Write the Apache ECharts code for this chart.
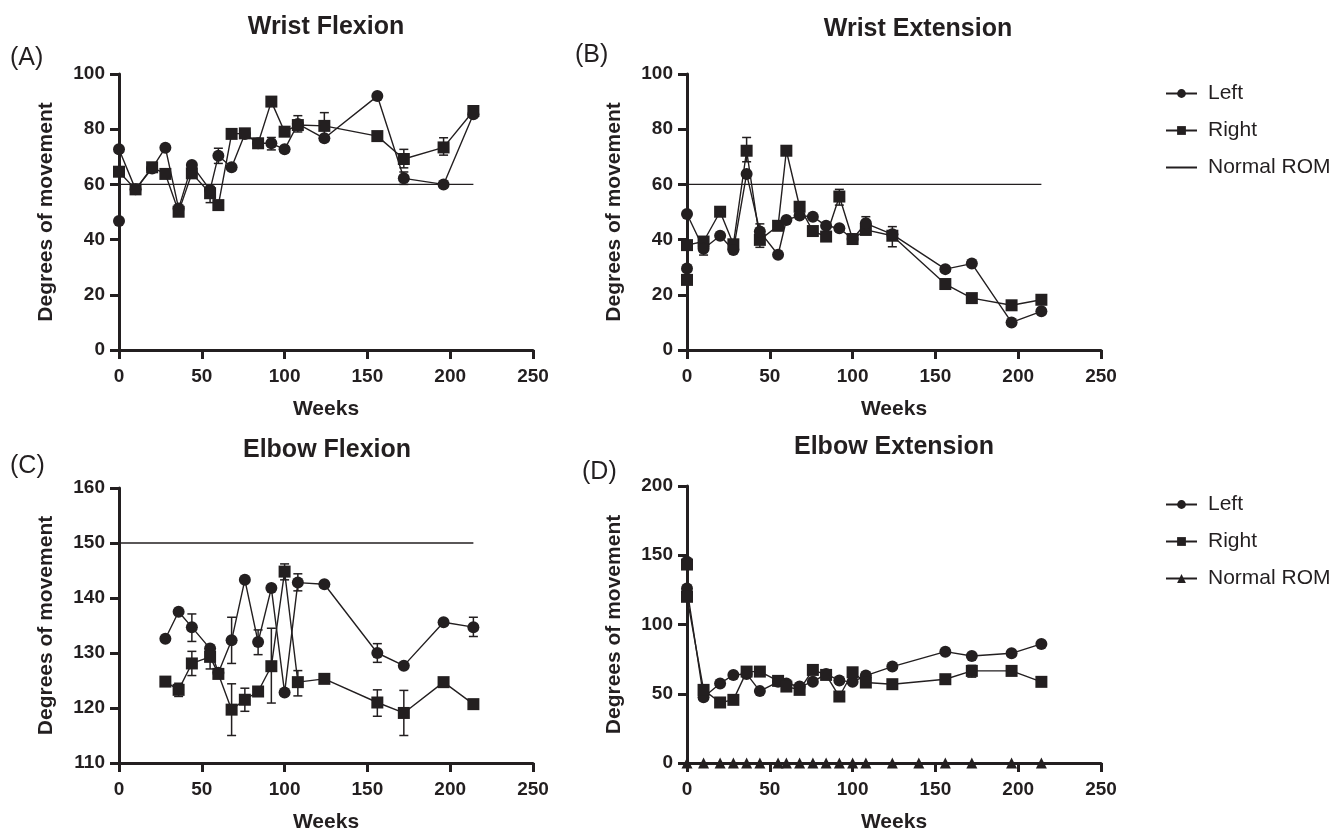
<!DOCTYPE html>
<html>
<head>
<meta charset="utf-8">
<script src="https://cdn.jsdelivr.net/npm/echarts@6/dist/echarts.min.js"></script>
<style>
html,body{margin:0;padding:0;background:#fff;}
#chart{width:1340px;height:835px;}
</style>
</head>
<body>
<div id="chart"></div>
<script>
// ---------------- DATA ----------------
const titles = ['Wrist Flexion', 'Wrist Extension', 'Elbow Flexion', 'Elbow Extension'];
const panelLetters = ['(A)', '(B)', '(C)', '(D)'];
const xTicks = [0, 50, 100, 150, 200, 250];

// Panel A – Wrist Flexion
const aLeftWeeks  = [0, 0, 10, 20, 28, 36, 44, 55, 60, 68, 76, 84, 92, 100, 108, 124, 156, 172, 196, 214];
const aLeft       = [46.7, 72.7, 58.2, 65.8, 73.3, 51.3, 67, 58, 70.4, 66.2, 78.3, 74.9, 74.9, 72.7, 81.9, 76.7, 92, 62.2, 60, 85.4];
const aRightWeeks = [0, 10, 20, 28, 36, 44, 55, 60, 68, 76, 84, 92, 100, 108, 124, 156, 172, 196, 214];
const aRight      = [64.6, 58.2, 66.2, 63.8, 50.1, 64, 56.8, 52.5, 78.3, 78.5, 74.9, 90, 79.1, 81.5, 81.2, 77.5, 69.2, 73.4, 86.6];
const aNormWeeks  = [0, 214];
const aNorm       = [60, 60];
const aLeftErr    = [[60, 67.6, 73.1], [92, 72.5, 77], [172, 60, 64.5]];
const aRightErr   = [[55, 53.4, 59.2], [108, 79, 84.9], [124, 77, 86], [172, 66, 72.7], [196, 70.6, 76.9]];

// Panel B – Wrist Extension
const bLeftWeeks  = [0, 0, 10, 20, 28, 36, 44, 55, 60, 68, 76, 84, 92, 100, 108, 124, 156, 172, 196, 214];
const bLeft       = [29.5, 49.3, 36.7, 41.4, 36.2, 63.8, 42.9, 34.5, 47.1, 48.7, 48.3, 45, 44.1, 40.2, 45.9, 41.9, 29.3, 31.3, 10, 14];
const bRightWeeks = [0, 0, 10, 20, 28, 36, 44, 55, 60, 68, 76, 84, 92, 100, 108, 124, 156, 172, 196, 214];
const bRight      = [25.4, 38, 39.3, 50.1, 38.3, 72.2, 39.9, 45, 72.2, 51.9, 43.1, 41.1, 55.6, 40.2, 43.5, 41.4, 23.9, 18.8, 16.2, 18.2];
const bNormWeeks  = [0, 214];
const bNorm       = [60, 60];
const bLeftErr    = [[10, 34.4, 39], [108, 43.5, 48.3]];
const bRightErr   = [[36, 68.2, 77], [44, 37.2, 45.7], [92, 52.5, 58.2], [124, 37.4, 44.7]];

// Panel C – Elbow Flexion
const cWeeks      = [28, 36, 44, 55, 60, 68, 76, 84, 92, 100, 108, 124, 156, 172, 196, 214];
const cLeft       = [132.6, 137.5, 134.7, 130.8, 126.4, 132.3, 143.3, 132, 141.8, 122.8, 142.8, 142.5, 130, 127.7, 135.6, 134.7];
const cRight      = [124.8, 123.3, 128.1, 129.3, 126.2, 119.7, 121.5, 123, 127.6, 144.8, 124.7, 125.3, 121, 119.1, 124.7, 120.7];
const cNormWeeks  = [0, 214];
const cNorm       = [150, 150];
const cLeftErr    = [[44, 132.1, 137.1], [68, 128.1, 136.5], [84, 129.7, 134.2], [108, 141.3, 144.4], [156, 128.3, 131.7], [214, 133, 136.5]];
const cRightErr   = [[36, 122.1, 124.5], [44, 125.9, 130.3], [55, 127.1, 131], [68, 115, 124.4], [76, 119.4, 123.6], [92, 120.9, 134.5], [100, 143.3, 146.2], [108, 122.2, 126.8], [156, 118.5, 123.3], [172, 115, 123.2]];

// Panel D – Elbow Extension
const dLeftWeeks  = [0, 0, 10, 20, 28, 36, 44, 55, 60, 68, 76, 84, 92, 100, 108, 124, 156, 172, 196, 214];
const dLeft       = [145.3, 126, 47.5, 57.4, 63.6, 64.3, 51.9, 58.6, 57.4, 55.2, 58.6, 64.3, 59.5, 58.6, 63.1, 69.6, 80.4, 77.3, 79.2, 86];
const dRightWeeks = [0, 0, 10, 20, 28, 36, 44, 55, 60, 68, 76, 84, 92, 100, 108, 124, 156, 172, 196, 214];
const dRight      = [143.3, 120, 52.8, 43.7, 45.6, 66, 66, 59.3, 55.2, 52.8, 67.2, 63.6, 48, 65.5, 58.1, 56.9, 60.5, 66.5, 66.5, 58.6];
const dNormWeeks  = [0, 10, 20, 28, 36, 44, 55, 60, 68, 76, 84, 92, 100, 108, 124, 140, 156, 172, 196, 214];
const dNorm       = [0, 0, 0, 0, 0, 0, 0, 0, 0, 0, 0, 0, 0, 0, 0, 0, 0, 0, 0, 0];
const dRightErr   = [[172, 62, 70.5]];

// ---------------- STYLE / LAYOUT ----------------
const FONT = '"Liberation Sans", Arial, Helvetica, sans-serif';
const INK = '#231f20';
const grids = [
  {left: 119, top: 74, width: 414, height: 276},
  {left: 687, top: 74, width: 414, height: 276},
  {left: 119, top: 488, width: 414, height: 275},
  {left: 687, top: 486, width: 414, height: 277}
];
const yRanges = [[0, 100, 20], [0, 100, 20], [110, 160, 10], [0, 200, 50]];
const titlePos = [[326, 27], [918, 29], [327, 450], [894, 447]];
const letterPos = [[10, 58], [575, 55], [10, 466], [582, 472]];

const zip = (xs, ys) => xs.map((x, i) => [x, ys[i]]);

function axisCommon() {
  return {
    axisLine: {show: true, onZero: false, lineStyle: {color: INK, width: 3}},
    axisTick: {show: true, length: 9, inside: false, lineStyle: {color: INK, width: 3}},
    splitLine: {show: false},
    axisLabel: {color: INK, fontFamily: FONT, fontWeight: 'bold', fontSize: 19},
    nameTextStyle: {color: INK, fontFamily: FONT, fontWeight: 'bold', fontSize: 21}
  };
}

const xAxes = grids.map((g, i) => Object.assign(axisCommon(), {
  type: 'value', gridIndex: i, min: xTicks[0], max: xTicks[xTicks.length - 1], interval: 50,
  name: 'Weeks', nameLocation: 'middle', nameGap: 49
}));
xAxes.forEach(a => { a.axisLabel.margin = 17; });

const yAxes = grids.map((g, i) => Object.assign(axisCommon(), {
  type: 'value', gridIndex: i, min: yRanges[i][0], max: yRanges[i][1], interval: yRanges[i][2],
  name: 'Degrees of movement', nameLocation: 'middle', nameGap: 62
}));
yAxes.forEach(a => { a.axisLabel.margin = 14; });

function lineSeries(name, data, idx, symbol, size) {
  return {
    type: 'line', name: name, xAxisIndex: idx, yAxisIndex: idx, data: data,
    symbol: symbol, symbolSize: size, showAllSymbol: true, clip: false,
    lineStyle: {color: INK, width: 1.4}, itemStyle: {color: INK}, z: 3,
    animation: false
  };
}
function normLine(name, data, idx) {
  return {
    type: 'line', name: name, xAxisIndex: idx, yAxisIndex: idx, data: data,
    symbol: 'none', clip: false, lineStyle: {color: INK, width: 1.3}, itemStyle: {color: INK},
    z: 2, animation: false
  };
}
function errSeries(data, idx) {
  return {
    type: 'custom', xAxisIndex: idx, yAxisIndex: idx, data: data, clip: false, z: 2,
    encode: {x: 0, y: [1, 2]}, animation: false, silent: true,
    renderItem: function (params, api) {
      const x = api.value(0), lo = api.value(1), hi = api.value(2);
      const p1 = api.coord([x, lo]), p2 = api.coord([x, hi]);
      const w = 4.5;
      const st = {stroke: INK, lineWidth: 1.5};
      return {type: 'group', children: [
        {type: 'line', shape: {x1: p1[0], y1: p1[1], x2: p2[0], y2: p2[1]}, style: st},
        {type: 'line', shape: {x1: p1[0] - w, y1: p1[1], x2: p1[0] + w, y2: p1[1]}, style: st},
        {type: 'line', shape: {x1: p2[0] - w, y1: p2[1], x2: p2[0] + w, y2: p2[1]}, style: st}
      ]};
    }
  };
}

const CIRC = 12, SQ = 12, TRI = 11;
const series = [
  normLine('Normal ROM', zip(aNormWeeks, aNorm), 0),
  errSeries(aLeftErr, 0), errSeries(aRightErr, 0),
  lineSeries('Right', zip(aRightWeeks, aRight), 0, 'rect', SQ),
  lineSeries('Left', zip(aLeftWeeks, aLeft), 0, 'circle', CIRC),

  normLine('Normal ROM', zip(bNormWeeks, bNorm), 1),
  errSeries(bLeftErr, 1), errSeries(bRightErr, 1),
  lineSeries('Right', zip(bRightWeeks, bRight), 1, 'rect', SQ),
  lineSeries('Left', zip(bLeftWeeks, bLeft), 1, 'circle', CIRC),

  normLine('Normal ROM', zip(cNormWeeks, cNorm), 2),
  errSeries(cLeftErr, 2), errSeries(cRightErr, 2),
  lineSeries('Left', zip(cWeeks, cLeft), 2, 'circle', CIRC),
  lineSeries('Right', zip(cWeeks, cRight), 2, 'rect', SQ),

  errSeries(dRightErr, 3),
  lineSeries('Left', zip(dLeftWeeks, dLeft), 3, 'circle', CIRC),
  lineSeries('Right', zip(dRightWeeks, dRight), 3, 'rect', SQ),
  lineSeries('Normal ROM ', zip(dNormWeeks, dNorm), 3, 'triangle', TRI)
];

const legendText = {color: INK, fontFamily: FONT, fontSize: 21, padding: [0, 0, 0, 6]};
const legends = [
  {data: ['Left', 'Right', {name: 'Normal ROM', itemStyle: {opacity: 0, color: 'rgba(0,0,0,0)'}}], left: 1160, top: 78},
  {data: ['Left', 'Right', 'Normal ROM '], left: 1160, top: 489}
].map(l => Object.assign(l, {
  orient: 'vertical', itemWidth: 31, itemHeight: 11, itemGap: 16,
  textStyle: legendText, selectedMode: false, formatter: n => n.trim()
}));

const graphics = [];
titles.forEach((t, i) => graphics.push({
  type: 'text', x: titlePos[i][0], y: titlePos[i][1],
  style: {text: t, fill: INK, font: 'bold 25px ' + FONT, textAlign: 'center', textVerticalAlign: 'middle'}
}));
panelLetters.forEach((t, i) => graphics.push({
  type: 'text', x: letterPos[i][0], y: letterPos[i][1],
  style: {text: t, fill: INK, font: '25px ' + FONT, textAlign: 'left', textVerticalAlign: 'middle'}
}));

const chart = echarts.init(document.getElementById('chart'), null, {renderer: 'canvas'});
chart.setOption({
  backgroundColor: '#ffffff',
  animation: false,
  grid: grids,
  xAxis: xAxes,
  yAxis: yAxes,
  legend: legends,
  series: series,
  graphic: graphics
});
</script>
</body>
</html>
